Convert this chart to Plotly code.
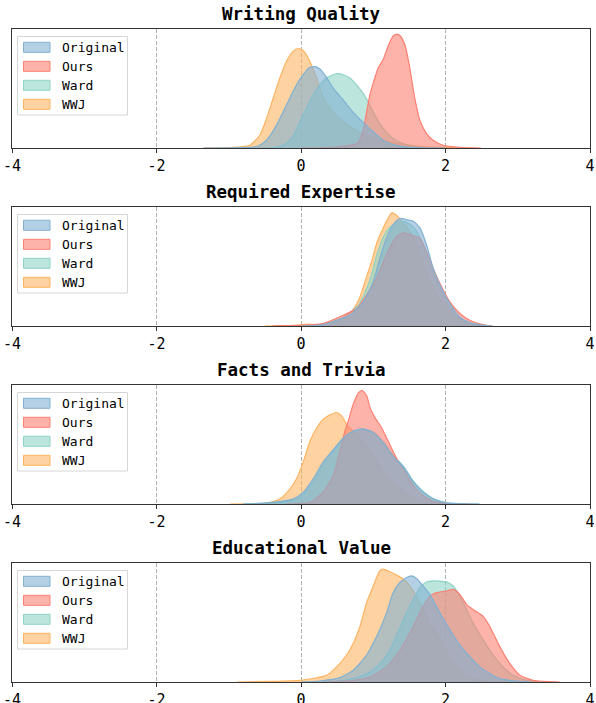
import plotly.graph_objects as go

series_names = ["Original", "Ours", "Ward", "WWJ"]
panel_titles = ["Writing Quality", "Required Expertise", "Facts and Trivia", "Educational Value"]
x_ticks = [-4, -2, 0, 2, 4]

# ---------------- Writing Quality (density, scaled to axis height) ----------------
wq_original_x = [-1.35, -1.0, -0.708, -0.6, -0.477, -0.339, -0.201, -0.062, 0.030, 0.122, 0.192, 0.261, 0.353, 0.445, 0.584, 0.722, 0.860, 0.999, 1.137, 1.276, 1.46, 1.7, 2.0]
wq_original_y = [0, 0.001, 0.005, 0.015, 0.065, 0.192, 0.362, 0.531, 0.616, 0.678, 0.684, 0.664, 0.593, 0.503, 0.404, 0.299, 0.215, 0.136, 0.065, 0.028, 0.008, 0.002, 0]
wq_ours_x = [0.0, 0.445, 0.63, 0.78, 0.86, 0.907, 0.953, 0.999, 1.068, 1.137, 1.206, 1.276, 1.322, 1.368, 1.437, 1.506, 1.575, 1.645, 1.737, 1.829, 1.968, 2.198, 2.49]
wq_ours_y = [0, 0.005, 0.02, 0.04, 0.15, 0.30, 0.446, 0.545, 0.672, 0.743, 0.856, 0.941, 0.955, 0.946, 0.87, 0.672, 0.418, 0.234, 0.121, 0.065, 0.023, 0.006, 0]
wq_ward_x = [-0.6, -0.339, -0.201, -0.108, -0.016, 0.076, 0.168, 0.261, 0.353, 0.445, 0.491, 0.584, 0.676, 0.768, 0.860, 0.953, 1.045, 1.137, 1.276, 1.460, 1.645, 1.9]
wq_ward_y = [0, 0.005, 0.04, 0.10, 0.220, 0.333, 0.446, 0.531, 0.588, 0.616, 0.624, 0.616, 0.588, 0.531, 0.460, 0.362, 0.249, 0.164, 0.079, 0.028, 0.008, 0]
wq_wwj_x = [-1.35, -0.939, -0.708, -0.570, -0.477, -0.385, -0.293, -0.201, -0.108, -0.039, 0.030, 0.122, 0.215, 0.307, 0.399, 0.537, 0.722, 0.907, 1.137, 1.368, 1.598, 1.92, 2.2]
wq_wwj_y = [0, 0.005, 0.023, 0.107, 0.249, 0.418, 0.588, 0.729, 0.814, 0.836, 0.819, 0.729, 0.588, 0.432, 0.333, 0.249, 0.164, 0.107, 0.065, 0.037, 0.017, 0.005, 0]

# ---------------- Required Expertise ----------------
re_original_x = [0.0, 0.3, 0.6, 0.677, 0.862, 1.0, 1.092, 1.184, 1.276, 1.346, 1.392, 1.45, 1.553, 1.645, 1.737, 1.829, 1.922, 2.06, 2.198, 2.336, 2.5, 2.65]
re_original_y = [0, 0.01, 0.07, 0.09, 0.203, 0.373, 0.571, 0.740, 0.853, 0.895, 0.904, 0.895, 0.881, 0.825, 0.684, 0.486, 0.345, 0.189, 0.076, 0.028, 0.008, 0]
re_ours_x = [-0.4, -0.3, 0.0, 0.3, 0.585, 0.770, 0.908, 1.046, 1.184, 1.323, 1.415, 1.507, 1.645, 1.737, 1.829, 1.922, 2.06, 2.198, 2.336, 2.5, 2.65]
re_ours_y = [0, 0.003, 0.006, 0.02, 0.09, 0.147, 0.26, 0.401, 0.599, 0.754, 0.782, 0.768, 0.740, 0.627, 0.486, 0.359, 0.203, 0.105, 0.048, 0.015, 0]
re_ward_x = [0.0, 0.3, 0.6, 0.8, 0.95, 1.05, 1.15, 1.25, 1.33, 1.4, 1.5, 1.6, 1.7, 1.8, 1.9, 2.0, 2.15, 2.3, 2.5]
re_ward_y = [0, 0.01, 0.08, 0.18, 0.38, 0.60, 0.76, 0.84, 0.87, 0.88, 0.86, 0.80, 0.66, 0.49, 0.34, 0.22, 0.09, 0.03, 0]
re_wwj_x = [-0.5, -0.1, 0.1, 0.25, 0.45, 0.6, 0.7, 0.8, 0.9, 0.98, 1.05, 1.12, 1.2, 1.26, 1.32, 1.38, 1.5, 1.6, 1.7, 1.8, 1.9, 2.0, 2.15, 2.3, 2.5]
re_wwj_y = [0, 0.005, 0.015, 0.01, 0.03, 0.07, 0.12, 0.22, 0.40, 0.55, 0.70, 0.80, 0.90, 0.952, 0.93, 0.89, 0.80, 0.68, 0.52, 0.37, 0.25, 0.16, 0.07, 0.025, 0]

# ---------------- Facts and Trivia ----------------
ft_original_x = [-0.8, -0.475, -0.106, 0.032, 0.171, 0.309, 0.447, 0.585, 0.724, 0.862, 1.0, 1.138, 1.276, 1.415, 1.553, 1.691, 1.829, 2.014, 2.2, 2.47]
ft_original_y = [0, 0.009, 0.043, 0.10, 0.214, 0.356, 0.456, 0.556, 0.613, 0.632, 0.598, 0.513, 0.399, 0.313, 0.185, 0.10, 0.043, 0.009, 0.003, 0]
ft_ours_x = [-0.2, 0.124, 0.309, 0.447, 0.539, 0.608, 0.654, 0.724, 0.793, 0.848, 0.908, 0.954, 1.023, 1.115, 1.207, 1.323, 1.438, 1.553, 1.691, 1.829, 2.014, 2.3]
ft_ours_y = [0, 0.014, 0.10, 0.242, 0.442, 0.613, 0.698, 0.840, 0.932, 0.954, 0.912, 0.812, 0.726, 0.641, 0.527, 0.385, 0.271, 0.157, 0.071, 0.023, 0.006, 0]
ft_ward_x = [-0.8, -0.475, -0.106, 0.032, 0.171, 0.309, 0.447, 0.585, 0.724, 0.862, 1.0, 1.138, 1.276, 1.415, 1.553, 1.691, 1.829, 2.014, 2.2, 2.47]
ft_ward_y = [0, 0.006, 0.03, 0.08, 0.19, 0.33, 0.44, 0.55, 0.615, 0.63, 0.605, 0.525, 0.41, 0.32, 0.195, 0.105, 0.045, 0.01, 0.003, 0]
ft_wwj_x = [-0.982, -0.475, -0.290, -0.152, -0.06, 0.032, 0.124, 0.217, 0.309, 0.401, 0.493, 0.562, 0.631, 0.816, 1.0, 1.138, 1.369, 1.599, 1.829, 2.1]
ft_wwj_y = [0, 0.009, 0.043, 0.128, 0.214, 0.356, 0.527, 0.641, 0.712, 0.749, 0.769, 0.741, 0.670, 0.556, 0.413, 0.271, 0.128, 0.043, 0.009, 0]

# ---------------- Educational Value ----------------
ev_original_x = [0.0, 0.263, 0.539, 0.724, 0.908, 1.046, 1.184, 1.276, 1.369, 1.461, 1.530, 1.599, 1.691, 1.783, 1.922, 2.06, 2.198, 2.336, 2.475, 2.613, 2.751, 3.03, 3.2]
ev_original_y = [0, 0.008, 0.037, 0.099, 0.227, 0.382, 0.581, 0.751, 0.836, 0.878, 0.892, 0.870, 0.807, 0.737, 0.581, 0.439, 0.312, 0.212, 0.127, 0.071, 0.028, 0.005, 0]
ev_ours_x = [0.3, 0.724, 0.954, 1.184, 1.369, 1.553, 1.691, 1.783, 1.876, 2.014, 2.106, 2.198, 2.29, 2.382, 2.521, 2.613, 2.751, 2.889, 3.028, 3.212, 3.58]
ev_ours_y = [0, 0.014, 0.042, 0.127, 0.269, 0.467, 0.637, 0.722, 0.751, 0.765, 0.779, 0.737, 0.652, 0.609, 0.552, 0.467, 0.297, 0.156, 0.057, 0.014, 0]
ev_ward_x = [0.4, 0.724, 0.954, 1.138, 1.276, 1.415, 1.553, 1.645, 1.737, 1.829, 1.922, 2.014, 2.106, 2.198, 2.29, 2.382, 2.521, 2.659, 2.797, 2.935, 3.12, 3.4]
ev_ward_y = [0, 0.028, 0.085, 0.184, 0.326, 0.524, 0.694, 0.793, 0.841, 0.850, 0.847, 0.841, 0.807, 0.722, 0.609, 0.496, 0.354, 0.227, 0.127, 0.057, 0.014, 0]
ev_wwj_x = [-0.889, -0.429, -0.014, 0.355, 0.493, 0.631, 0.724, 0.816, 0.908, 1.0, 1.092, 1.138, 1.230, 1.323, 1.415, 1.507, 1.645, 1.783, 1.922, 2.06, 2.198, 2.382, 2.567, 2.8]
ev_wwj_y = [0, 0.005, 0.014, 0.057, 0.127, 0.227, 0.326, 0.467, 0.666, 0.807, 0.935, 0.949, 0.926, 0.898, 0.864, 0.807, 0.666, 0.496, 0.354, 0.212, 0.099, 0.028, 0.005, 0]

panels = [
    {"Original": (wq_original_x, wq_original_y), "Ours": (wq_ours_x, wq_ours_y),
     "Ward": (wq_ward_x, wq_ward_y), "WWJ": (wq_wwj_x, wq_wwj_y)},
    {"Original": (re_original_x, re_original_y), "Ours": (re_ours_x, re_ours_y),
     "Ward": (re_ward_x, re_ward_y), "WWJ": (re_wwj_x, re_wwj_y)},
    {"Original": (ft_original_x, ft_original_y), "Ours": (ft_ours_x, ft_ours_y),
     "Ward": (ft_ward_x, ft_ward_y), "WWJ": (ft_wwj_x, ft_wwj_y)},
    {"Original": (ev_original_x, ev_original_y), "Ours": (ev_ours_x, ev_ours_y),
     "Ward": (ev_ward_x, ev_ward_y), "WWJ": (ev_wwj_x, ev_wwj_y)},
]

base_rgb = {"Original": (128, 177, 211), "Ours": (251, 128, 114),
            "Ward": (141, 211, 199), "WWJ": (253, 180, 98)}

def rgba(c, a):
    return f"rgba({c[0]},{c[1]},{c[2]},{a})"

FONT = "DejaVu Sans Mono"
W, H = 596, 703
ml, mr, mt, mb = 12, 6, 29, 21
plot_w = W - ml - mr
plot_h = H - mt - mb
panel_px = [(29, 148), (207, 326), (385, 504), (563, 682)]

def py2paper(py):
    return (H - mb - py) / plot_h

def px2paper(px):
    return (px - ml) / plot_w

fig = go.Figure()
shapes = []
annotations = []
layout = dict(
    width=W, height=H, margin=dict(l=ml, r=mr, t=mt, b=mb, autoexpand=False),
    plot_bgcolor="white", paper_bgcolor="white",
    font=dict(family=FONT, size=14, color="black"),
    showlegend=False,
)

for i, data in enumerate(panels):
    sfx = "" if i == 0 else str(i + 1)
    xa, ya = "x" + sfx, "y" + sfx
    # draw last hue first so that Original is on top
    for name in reversed(series_names):
        xs, ys = data[name]
        c = base_rgb[name]
        fig.add_trace(go.Scatter(
            x=xs, y=ys, mode="lines", fill="tozeroy",
            fillcolor=rgba(c, 0.6),
            line=dict(color=rgba(c, 1), width=1.2, shape="spline", smoothing=0.6),
            xaxis=xa, yaxis=ya, showlegend=False, hoverinfo="skip", name=name,
        ))
    top, bot = panel_px[i]
    d0, d1 = py2paper(bot), py2paper(top)
    layout["xaxis" + sfx] = dict(
        domain=[0, 1], anchor=ya, range=[-4, 4], tickmode="array", tickvals=x_ticks,
        ticktext=[str(t) for t in x_ticks], ticks="outside", ticklen=4, tickwidth=1,
        tickcolor="#333", showline=True, linecolor="#333", linewidth=1.2, mirror=True,
        showgrid=True, gridcolor="#b0b0b0", griddash="4px,2px", gridwidth=1, zeroline=False,
        tickfont=dict(family=FONT, size=15, color="black"), automargin=False,
        ticklabeloverflow="allow",
    )
    layout["yaxis" + sfx] = dict(
        domain=[d0, d1], anchor=xa, range=[0, 1.0], showticklabels=False, ticks="",
        showline=True, linecolor="#333", linewidth=1.2, mirror=True, showgrid=False,
        zeroline=False, automargin=False,
    )
    # panel title
    annotations.append(dict(
        text="<b>" + panel_titles[i] + "</b>", x=0.5, y=d1, xref="paper", yref="paper",
        xanchor="center", yanchor="bottom", yshift=3, showarrow=False,
        font=dict(family=FONT, size=17.5, color="black"),
    ))
    # legend box (drawn manually, matplotlib style)
    bx0, bx1 = px2paper(17.5), px2paper(127.5)
    by0, by1 = py2paper(top + 7.5), py2paper(top + 86)
    shapes.append(dict(
        type="rect", xref="paper", yref="paper", x0=bx0, x1=bx1, y0=by1, y1=by0,
        line=dict(color="#d6d6d6", width=1), fillcolor="rgba(255,255,255,0.8)", layer="above",
    ))
    for k, name in enumerate(series_names):
        c = base_rgb[name]
        cy = top + 18.3 + 19 * k
        shapes.append(dict(
            type="rect", xref="paper", yref="paper",
            x0=px2paper(23.5), x1=px2paper(50), y0=py2paper(cy + 5), y1=py2paper(cy - 5),
            line=dict(color=rgba(c, 1), width=1), fillcolor=rgba(c, 0.6), layer="above",
        ))
        annotations.append(dict(
            text=name, x=px2paper(60), y=py2paper(cy), xref="paper", yref="paper",
            xanchor="left", yanchor="middle", showarrow=False,
            font=dict(family=FONT, size=13, color="black"),
        ))

layout["shapes"] = shapes
layout["annotations"] = annotations
fig.update_layout(**layout)
fig.write_html(
    "out.html",
    config={"displayModeBar": False},
    post_script="document.body.style.margin='0';document.body.style.overflow='hidden';",
)
